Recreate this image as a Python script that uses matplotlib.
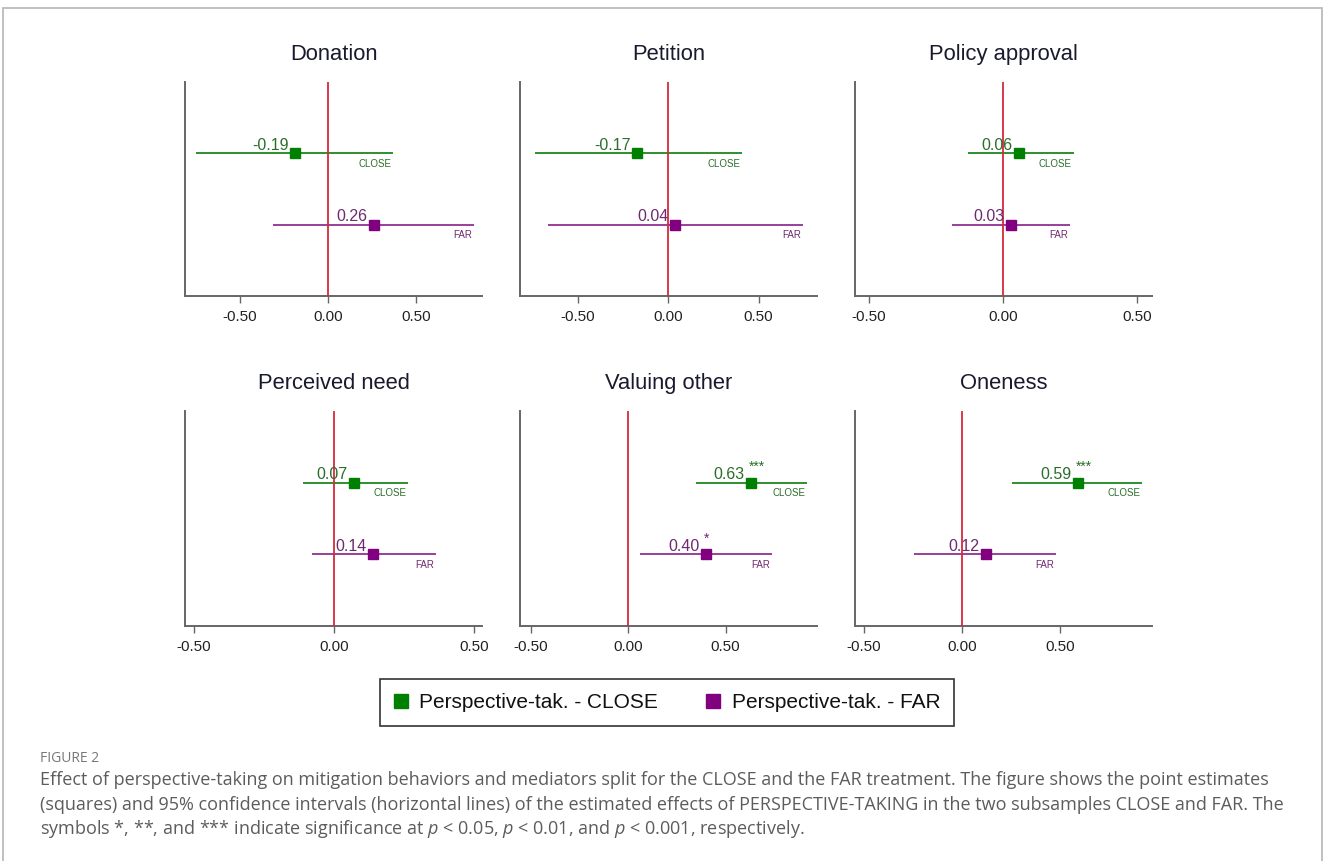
import matplotlib
matplotlib.use('Agg')
import matplotlib.pyplot as plt
from matplotlib.lines import Line2D
from matplotlib.patches import Rectangle

plt.rcParams['font.family'] = ['Liberation Sans', 'DejaVu Sans']
plt.rcParams['mathtext.fontset'] = 'custom'
plt.rcParams['mathtext.rm'] = 'Open Sans'
plt.rcParams['mathtext.it'] = 'Open Sans:italic'

# Panel titles and estimates
panels = ["Donation", "Petition", "Policy approval",
          "Perceived need", "Valuing other", "Oneness"]

close_est = [-0.19, -0.17, 0.06, 0.07, 0.63, 0.59]
close_lo = [-0.75, -0.735, -0.13, -0.11, 0.35, 0.255]
close_hi = [0.37, 0.41, 0.265, 0.265, 0.92, 0.92]
close_stars = ["", "", "", "", "***", "***"]

far_est = [0.26, 0.04, 0.03, 0.14, 0.40, 0.12]
far_lo = [-0.31, -0.665, -0.19, -0.08, 0.06, -0.245]
far_hi = [0.83, 0.745, 0.25, 0.365, 0.74, 0.48]
far_stars = ["", "", "", "", "*", ""]

x_ranges = [(-0.8125, 0.875), (-0.818, 0.823), (-0.552, 0.556),
            (-0.532, 0.529), (-0.554, 0.969), (-0.546, 0.969)]
tick_vals = [-0.5, 0.0, 0.5]
tick_labels = ["-0.50", "0.00", "0.50"]

legend_labels = ["Perspective-tak. - CLOSE", "Perspective-tak. - FAR"]

caption_head = "FIGURE 2"
caption_lines = [
    "Effect of perspective-taking on mitigation behaviors and mediators split for the CLOSE and the FAR treatment. The figure shows the point estimates",
    "(squares) and 95% confidence intervals (horizontal lines) of the estimated effects of PERSPECTIVE-TAKING in the two subsamples CLOSE and FAR. The",
    "symbols *, **, and *** indicate significance at $p$ < 0.05, $p$ < 0.01, and $p$ < 0.001, respectively.",
]

GREEN = '#008000'
GREEN_LINE = '#2f8f2f'
GREEN_TXT = '#2a6e2a'
PURPLE = '#800080'
PURPLE_LINE = '#9a3f9a'
PURPLE_TXT = '#6f2a6f'
RED = '#d42a3a'
SPINE = '#666666'

W, H = 1328, 861
fig = plt.figure(figsize=(W / 100, H / 100), dpi=100)

# outer frame
fig.patches.append(Rectangle((3.5 / W, -0.02), 1318 / W, 1 - 8 / H + 0.02,
                             transform=fig.transFigure, fill=False,
                             edgecolor='#bbbbbb', linewidth=1.3))

col_left = [185, 520, 855]
row_span = [(82, 296), (411, 626)]
panel_w = 297


def draw_row(ax, y, est, lo, hi, stars, tag, mcol, lcol, tcol):
    ax.hlines(y, lo, hi, color=lcol, linewidth=1.4, zorder=2)
    ax.plot([est], [y], 's', color=mcol, markersize=7.5, zorder=4)
    ax.annotate(f"{est:.2f}", (est, y), xytext=(-4.5, 0.5), textcoords='offset points',
                ha='right', va='bottom', fontsize=11.5, color=tcol, zorder=5)
    if stars:
        ax.annotate(stars, (est, y), xytext=(-1.5, 6.5), textcoords='offset points',
                    ha='left', va='bottom', fontsize=10, color=tcol, zorder=5)
    ax.annotate(tag, (hi, y), xytext=(-1.5, -4), textcoords='offset points',
                ha='right', va='top', fontsize=7, color=tcol, zorder=5)


for i, name in enumerate(panels):
    r, c = divmod(i, 3)
    top, bot = row_span[r]
    x0 = col_left[c]
    ax = fig.add_axes([x0 / W, 1 - bot / H, panel_w / W, (bot - top) / H])
    ax.set_xlim(*x_ranges[i])
    ax.set_ylim(0, 3)
    ax.axvline(0, color=RED, linewidth=1.3, zorder=3)

    draw_row(ax, 2, close_est[i], close_lo[i], close_hi[i], close_stars[i],
             'CLOSE', GREEN, GREEN_LINE, GREEN_TXT)
    draw_row(ax, 1, far_est[i], far_lo[i], far_hi[i], far_stars[i],
             'FAR', PURPLE, PURPLE_LINE, PURPLE_TXT)

    for s in ['top', 'right']:
        ax.spines[s].set_visible(False)
    for s in ['left', 'bottom']:
        ax.spines[s].set_color(SPINE)
        ax.spines[s].set_linewidth(1.4)
    ax.set_yticks([])
    ax.set_xticks(tick_vals)
    ax.set_xticklabels(tick_labels)
    ax.tick_params(axis='x', direction='out', length=5, width=1, color=SPINE,
                   labelsize=11, pad=5, labelcolor='#222222')
    ax.text(0.5, 1 + 28 / (bot - top), name, transform=ax.transAxes,
            ha='center', va='center', fontsize=15.8, color='#1a1a2e')

handles = [Line2D([], [], marker='s', linestyle='none', color=GREEN, markersize=10),
           Line2D([], [], marker='s', linestyle='none', color=PURPLE, markersize=10)]
leg = fig.legend(handles, legend_labels, loc='center',
                 bbox_to_anchor=(667 / W, 1 - 702.5 / H), ncol=2,
                 frameon=True, fancybox=False, edgecolor='black', fontsize=15,
                 handlelength=0.7, handletextpad=0.55, columnspacing=2.3,
                 borderpad=0.65, borderaxespad=0)
leg.get_frame().set_linewidth(1.2)
for t in leg.get_texts():
    t.set_color('#111111')

fig.text(40 / W, 1 - 758 / H, caption_head, ha='left', va='center',
         fontsize=10, color='#777777', family='Open Sans')
for k, line in enumerate(caption_lines):
    fig.text(40 / W, 1 - (780 + 24.5 * k) / H, line, ha='left', va='center',
             fontsize=12.95, color='#5c5c5c', family='Open Sans')

fig.savefig('out.png', dpi=100)
